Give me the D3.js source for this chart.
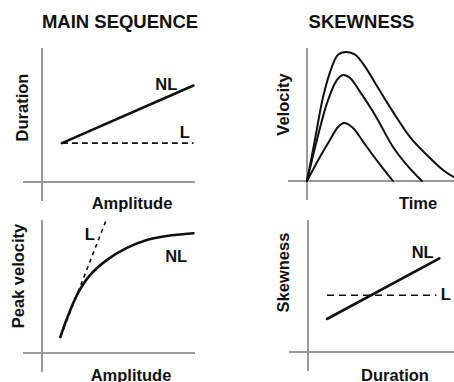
<!DOCTYPE html>
<html>
<head>
<meta charset="utf-8">
<script src="https://cdn.jsdelivr.net/npm/d3@7"></script>
<style>
  html, body { margin: 0; padding: 0; background: #fff; }
  svg { display: block; }
  text { font-family: "Liberation Sans", Arial, Helvetica, sans-serif; font-weight: bold; fill: #111; }
</style>
</head>
<body>
<svg id="chart" width="454" height="382"></svg>
<script>
// ---- Data (arbitrary units, 0-100 on each axis) ----

// Main sequence: duration vs amplitude
const msAmplitude = [13, 99];
const msDurationNL = [29, 72];
const msDurationL = [29, 29];

// Main sequence: peak velocity vs amplitude
const pvAmplitudeNL = [12, 16, 23.5, 31, 42.5, 55.5, 68.5, 81.5, 99];
const pvPeakNL = [12, 25, 45, 58, 70, 79, 85, 88, 90];
const pvAmplitudeL = [12, 42.5];
const pvPeakL = [12, 101.5];

// Skewness: velocity profiles over time for three saccade sizes
const timeLarge = [0, 5.4, 10.9, 17, 21.1, 26.5, 32.7, 39.5, 47.6, 58.5, 70.1, 81.6, 92.5, 100, 108];
const velLarge = [0, 31, 63, 86, 95, 97, 95, 86, 71.4, 52, 33, 19.5, 8.3, 3, 0];
const timeMedium = [0, 6.8, 13.6, 20.4, 24.5, 29.3, 36.1, 44.2, 49.7, 58.5, 68, 78.2];
const velMedium = [0, 31, 58.6, 76, 79.7, 77.4, 67, 53.4, 42.9, 25.6, 12, 0];
const timeSmall = [0, 8.8, 15.6, 21.1, 25.2, 30.6, 37.4, 44.2, 51, 58.5];
const velSmall = [0, 18, 30.8, 40.6, 43.6, 40.6, 30.8, 20.3, 10.5, 0];

// Skewness vs duration
const skDuration = [13, 90];
const skSkewNL = [25, 71];
const skDurationL = [13, 88];
const skSkewL = [43, 43];

const titles = ["MAIN SEQUENCE", "SKEWNESS"];
const xLabels = ["Amplitude", "Time", "Amplitude", "Duration"];
const yLabels = ["Duration", "Velocity", "Peak velocity", "Skewness"];

// ---- Layout ----
const svg = d3.select("#chart");
const panels = [
  { ox: 42,  oy: 182, xEnd: 195, yTop: 48,  xl: [132, 209], yl: [28, 107.5] },
  { ox: 307, oy: 181, xEnd: 454, yTop: 48,  xl: [418, 209], yl: [289, 104.5] },
  { ox: 42,  oy: 353, xEnd: 195, yTop: 220, xl: [131, 380.5], yl: [24, 276] },
  { ox: 308, oy: 352, xEnd: 454, yTop: 220, xl: [395, 380.5], yl: [289, 272.5] }
];
const overhang = 19;

panels.forEach((p, i) => {
  p.x = d3.scaleLinear().domain([0, 100]).range([p.ox, p.xEnd]);
  p.y = d3.scaleLinear().domain([0, 100]).range([p.oy, p.yTop]);
  const g = svg.append("g");
  // crossing axes
  g.append("line").attr("x1", p.ox - overhang).attr("x2", p.xEnd)
    .attr("y1", p.oy).attr("y2", p.oy)
    .attr("stroke", "#999").attr("stroke-width", 2);
  g.append("line").attr("x1", p.ox).attr("x2", p.ox)
    .attr("y1", p.yTop).attr("y2", p.oy + overhang)
    .attr("stroke", "#999").attr("stroke-width", 2);
  g.append("text").attr("x", p.xl[0]).attr("y", p.xl[1])
    .attr("text-anchor", "middle").attr("font-size", 16.5).text(xLabels[i]);
  g.append("text").attr("transform", `translate(${p.yl[0]},${p.yl[1]}) rotate(-90)`)
    .attr("text-anchor", "middle").attr("font-size", 16.5).text(yLabels[i]);
  p.g = g;
});

svg.append("text").attr("x", 120).attr("y", 28).attr("text-anchor", "middle")
  .attr("font-size", 18.5).text(titles[0]);
svg.append("text").attr("x", 361.5).attr("y", 28).attr("text-anchor", "middle")
  .attr("font-size", 18.5).text(titles[1]);

function drawLine(p, xs, ys, opts) {
  const pts = xs.map((v, k) => [v, ys[k]]);
  const line = d3.line().x(d => p.x(d[0])).y(d => p.y(d[1]))
    .curve(opts.curve || d3.curveLinear);
  p.g.append("path").attr("d", line(pts))
    .attr("fill", "none").attr("stroke", "#111")
    .attr("stroke-width", opts.width || 2.5)
    .attr("stroke-dasharray", opts.dash || null)
    .attr("stroke-linecap", opts.dash ? "butt" : "round");
}
function label(p, ax, ay, txt) {
  p.g.append("text").attr("x", p.x(ax)).attr("y", p.y(ay))
    .attr("font-size", 16.5).text(txt);
}

const smooth = d3.curveCatmullRom.alpha(0.5);

// Panel 1: duration vs amplitude
const p1 = panels[0];
drawLine(p1, msAmplitude, msDurationL, { width: 1.6, dash: "6,4" });
drawLine(p1, msAmplitude, msDurationNL, { width: 2.6 });
label(p1, 74, 68.7, "NL");
label(p1, 90, 33, "L");

// Panel 2: velocity profiles
const p2 = panels[1];
[[timeLarge, velLarge], [timeMedium, velMedium], [timeSmall, velSmall]].forEach(([t, v]) => {
  drawLine(p2, t, v, { width: 2, curve: smooth });
});

// Panel 3: peak velocity vs amplitude
const p3 = panels[2];
drawLine(p3, pvAmplitudeL, pvPeakL, { width: 1.6, dash: "4,4" });
drawLine(p3, pvAmplitudeNL, pvPeakNL, { width: 2.6, curve: smooth });
label(p3, 28, 85, "L");
label(p3, 80.5, 68.4, "NL");

// Panel 4: skewness vs duration
const p4 = panels[3];
drawLine(p4, skDurationL, skSkewL, { width: 1.6, dash: "7,5" });
drawLine(p4, skDuration, skSkewNL, { width: 2.6 });
label(p4, 71, 71, "NL");
label(p4, 91, 39.4, "L");
</script>
</body>
</html>
